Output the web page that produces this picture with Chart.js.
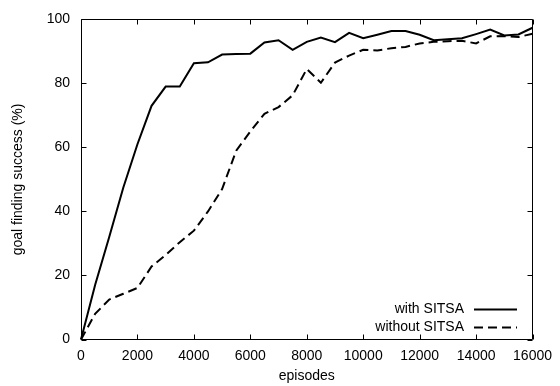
<!DOCTYPE html>
<html>
<head>
<meta charset="utf-8">
<script src="https://cdn.jsdelivr.net/npm/chart.js@4"></script>
<style>
  html, body { margin: 0; padding: 0; background: #fff; }
  #wrap { width: 560px; height: 386px; }
</style>
</head>
<body>
<div id="wrap"><canvas id="myChart" width="560" height="386"></canvas></div>
<script>
var episodes = [0, 500, 1000, 1500, 2000, 2500, 3000, 3500, 4000, 4500, 5000, 5500,
  6000, 6500, 7000, 7500, 8000, 8500, 9000, 9500, 10000, 10500, 11000, 11500,
  12000, 12500, 13000, 13500, 14000, 14500, 15000, 15500, 16000];

var withSITSA = [0, 17, 32, 47.5, 61, 73, 79, 79, 86.3, 86.6, 89, 89.2,
  89.3, 92.8, 93.5, 90.5, 93, 94.3, 92.9, 95.8, 94.1, 95.2, 96.4, 96.4,
  95.2, 93.5, 93.8, 94.1, 95.4, 96.8, 95, 95.3, 97.4];

var withoutSITSA = [0, 8, 12.5, 14.3, 16.1, 22.8, 26.4, 30.4, 34, 40, 47, 59,
  65, 70.5, 72.6, 76.3, 84.5, 80.2, 86.5, 88.7, 90.5, 90.3, 91, 91.4,
  92.5, 93, 93.2, 93.3, 92.5, 94.7, 94.8, 94.5, 95.5];

var seriesNames = ["with SITSA", "without SITSA"];

var fontFamily = "'Liberation Sans', Arial, sans-serif";

function toPoints(ys) {
  return episodes.map(function (x, i) { return { x: x, y: ys[i] }; });
}

// gnuplot-like frame with inward ticks, plus legend in the lower right
var framePlugin = {
  id: 'frame',
  afterDatasetsDraw: function (chart) {
    var ctx = chart.ctx;
    var a = chart.chartArea;
    var xs = chart.scales.x, ys = chart.scales.y;
    var L = Math.round(a.left) + 0.5, R = Math.round(a.right) - 0.5;
    var T = Math.round(a.top) + 0.5, B = Math.round(a.bottom) - 0.5;
    ctx.save();
    ctx.strokeStyle = '#000';
    ctx.lineWidth = 1;
    ctx.beginPath();
    ctx.rect(L, T, R - L, B - T);
    xs.ticks.forEach(function (t) {
      var px = Math.round(xs.getPixelForValue(t.value)) + 0.5;
      ctx.moveTo(px, B); ctx.lineTo(px, B - 5);
      ctx.moveTo(px, T); ctx.lineTo(px, T + 5);
    });
    ys.ticks.forEach(function (t) {
      var py = Math.round(ys.getPixelForValue(t.value)) + 0.5;
      ctx.moveTo(L, py); ctx.lineTo(L + 5, py);
      ctx.moveTo(R, py); ctx.lineTo(R - 5, py);
    });
    ctx.stroke();

    // legend
    ctx.font = '14px ' + fontFamily;
    ctx.fillStyle = '#000';
    ctx.textAlign = 'right';
    ctx.textBaseline = 'middle';
    var rows = [309.5, 327.5];
    chart.data.datasets.forEach(function (ds, i) {
      ctx.fillText(ds.label, 464, rows[i]);
      ctx.lineWidth = 2;
      ctx.setLineDash(ds.borderDash || []);
      ctx.beginPath();
      ctx.moveTo(474, rows[i]);
      ctx.lineTo(517, rows[i]);
      ctx.stroke();
    });
    ctx.restore();
  }
};

var ctx = document.getElementById('myChart').getContext('2d');
var myChart = new Chart(ctx, {
  type: 'line',
  data: {
    datasets: [{
      label: seriesNames[0],
      data: toPoints(withSITSA),
      borderColor: '#000',
      borderWidth: 2,
      pointRadius: 0,
      tension: 0,
      clip: false
    }, {
      label: seriesNames[1],
      data: toPoints(withoutSITSA),
      borderColor: '#000',
      borderWidth: 2,
      borderDash: [9, 5],
      pointRadius: 0,
      tension: 0,
      clip: false
    }]
  },
  options: {
    responsive: false,
    animation: false,
    layout: { padding: { top: 12, right: 24, left: 0, bottom: 0 } },
    plugins: {
      legend: { display: false },
      tooltip: { enabled: false }
    },
    scales: {
      x: {
        type: 'linear',
        min: 0,
        max: 16000,
        grid: { display: false, drawTicks: false },
        border: { display: false },
        ticks: {
          stepSize: 2000,
          padding: 8,
          color: '#000',
          maxRotation: 0,
          font: { family: fontFamily, size: 14 },
          callback: function (v) { return String(v); }
        },
        title: {
          display: true,
          text: 'episodes',
          color: '#000',
          padding: { top: 0, bottom: 1 },
          font: { family: fontFamily, size: 14 }
        },
        afterFit: function (scale) { scale.height = 46.5; }
      },
      y: {
        min: 0,
        max: 100,
        grid: { display: false, drawTicks: false },
        border: { display: false },
        ticks: {
          stepSize: 20,
          padding: 11,
          color: '#000',
          font: { family: fontFamily, size: 14 },
          callback: function (v) { return String(v); }
        },
        title: {
          display: true,
          text: 'goal finding success (%)',
          color: '#000',
          padding: { top: 10, bottom: 0 },
          font: { family: fontFamily, size: 14 }
        },
        afterFit: function (scale) { scale.width = 81; }
      }
    }
  },
  plugins: [framePlugin]
});
</script>
</body>
</html>
